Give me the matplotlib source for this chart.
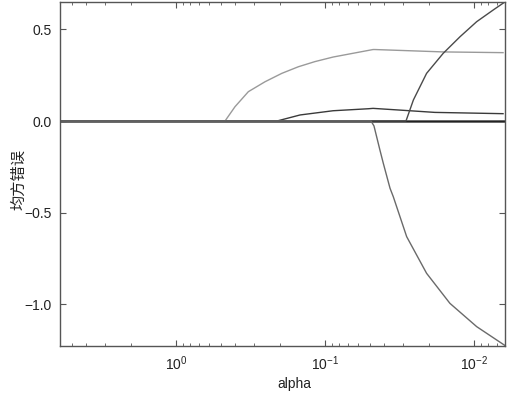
import matplotlib
matplotlib.use("Agg")
import matplotlib.pyplot as plt

plt.rcParams['font.family'] = ['Liberation Sans', 'Noto Sans CJK SC', 'DejaVu Sans']

# Regularization strengths (x) and coefficient values
alpha_zero = [6.01, 0.00619]
coef_zero = [0.0, 0.0]

alpha_f1 = [6.01, 0.469, 0.402, 0.327, 0.253, 0.195, 0.151, 0.117, 0.0883, 0.0476, 0.0462, 0.0161, 0.00638]
coef_f1 = [0.0, 0.0, 0.078, 0.160, 0.214, 0.260, 0.296, 0.324, 0.349, 0.390, 0.390, 0.377, 0.373]

alpha_f2 = [6.01, 0.210, 0.147, 0.0883, 0.0510, 0.0476, 0.0320, 0.0183, 0.00638]
coef_f2 = [0.0, 0.0, 0.033, 0.056, 0.067, 0.069, 0.060, 0.047, 0.040]

alpha_f3 = [6.01, 0.0286, 0.0255, 0.0208, 0.0161, 0.0124, 0.00959, 0.00742, 0.00619]
coef_f3 = [0.0, 0.0, 0.115, 0.260, 0.369, 0.460, 0.542, 0.606, 0.650]

alpha_f4 = [6.01, 0.0491, 0.0469, 0.0428, 0.0406, 0.0366, 0.0348, 0.0283, 0.0208, 0.0145, 0.00959, 0.00619]
coef_f4 = [0.0, 0.0, -0.027, -0.158, -0.231, -0.367, -0.413, -0.631, -0.831, -0.995, -1.122, -1.225]

n_zero_features = 5

W, H = 507, 393
fig = plt.figure(figsize=(W / 100, H / 100), dpi=100)
ax = fig.add_axes([60 / W, 1 - 345.7 / H, 445 / W, 344 / H])

for _ in range(n_zero_features):
    ax.plot(alpha_zero, coef_zero, color='#222222', lw=1.0)
ax.plot(alpha_f1, coef_f1, color='#9a9a9a', lw=1.0)
ax.plot(alpha_f2, coef_f2, color='#3a3a3a', lw=1.0)
ax.plot(alpha_f3, coef_f3, color='#4a4a4a', lw=1.0)
ax.plot(alpha_f4, coef_f4, color='#6a6a6a', lw=1.0)

ax.set_xscale('log')
ax.set_xlim(6.01, 0.00619)
ax.set_ylim(-1.226, 0.651)
ax.set_yticks([-1.0, -0.5, 0.0, 0.5])

for s in ax.spines.values():
    s.set_color('#555555')
    s.set_linewidth(1.0)
ax.tick_params(which='both', direction='in', top=True, right=True, colors='#555555',
               labelcolor='#222222', labelsize=10)
ax.tick_params(which='major', length=4, pad=6)
ax.tick_params(which='minor', length=2)

ax.set_xlabel('alpha', fontsize=10, color='#222222')
ax.set_ylabel('均方错误', fontsize=11, color='#222222')
ax.xaxis.set_label_coords((294 - 60) / 445, -(377 - 345.7) / 344)
ax.yaxis.set_label_coords(-(60 - 26) / 445, (345.7 - 179) / 344)

fig.savefig('out.png', dpi=100)
